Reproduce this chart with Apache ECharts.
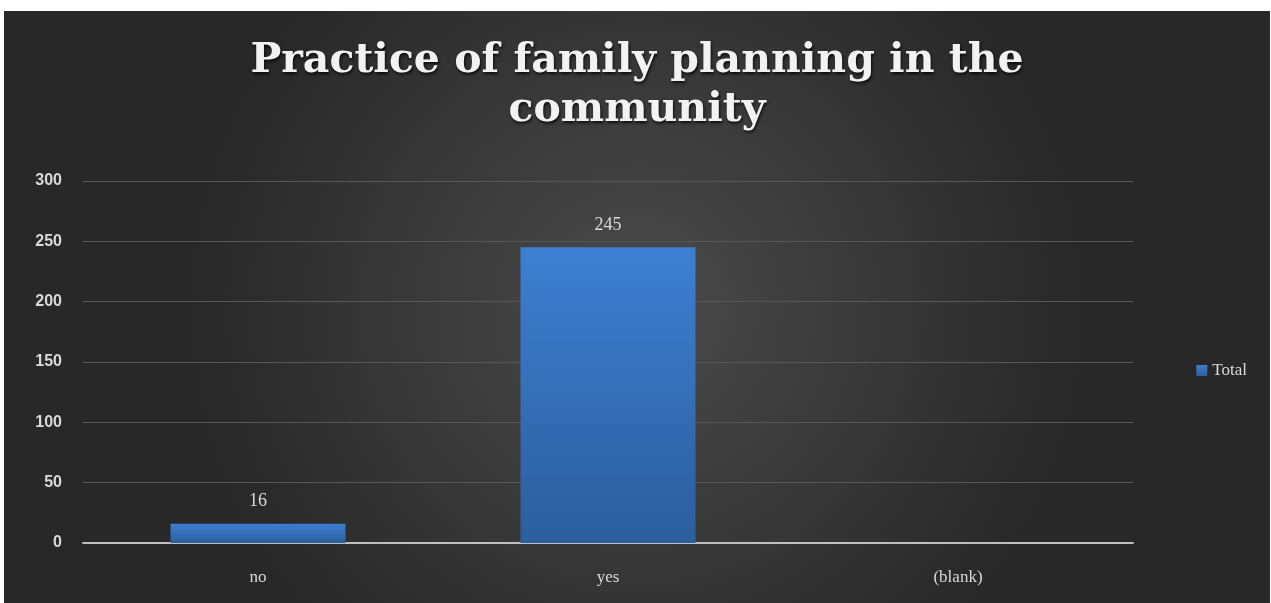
<!DOCTYPE html>
<html>
<head>
<meta charset="utf-8">
<script src="https://cdn.jsdelivr.net/npm/echarts@6/dist/echarts.min.js"></script>
<style>
  html, body { margin: 0; padding: 0; background: #fff; }
  #chart1 { position: absolute; left: 4px; top: 11px; width: 1266px; height: 592px; }
</style>
</head>
<body>
<div id="chart1"></div>
<script>
const categories = ['no', 'yes', '(blank)'];
const totals = [16, 245, null];
const yTicks = [0, 50, 100, 150, 200, 250, 300];

const getOptionChart1 = () => {
  return {
    backgroundColor: {
      type: 'radial', x: 0.5, y: 0.5, r: 0.75,
      colorStops: [
        { offset: 0, color: '#4b4b4b' },
        { offset: 1, color: '#282828' }
      ]
    },
    title: {
      text: 'Practice of family planning in the\ncommunity',
      left: 'center',
      top: 21,
      textStyle: {
        color: '#f2f2f2',
        fontFamily: 'DejaVu Serif',
        fontWeight: 'bold',
        fontSize: 41,
        lineHeight: 49,
        textShadowColor: 'rgba(0,0,0,0.8)',
        textShadowBlur: 3,
        textShadowOffsetX: 1,
        textShadowOffsetY: 2
      }
    },
    legend: {
      orient: 'vertical',
      right: 18,
      top: 346,
      itemWidth: 11,
      itemHeight: 11,
      itemGap: 6,
      icon: 'rect',
      textStyle: { color: '#d9d9d9', fontFamily: 'Liberation Serif', fontSize: 17 }
    },
    grid: { left: 79, right: 137, top: 170, bottom: 60, containLabel: false },
    xAxis: {
      type: 'category',
      data: categories,
      axisLine: { lineStyle: { color: '#bfbfbf', width: 2 } },
      axisTick: { show: false },
      axisLabel: { color: '#d9d9d9', fontFamily: 'Liberation Serif', fontSize: 17, margin: 26 }
    },
    yAxis: {
      type: 'value',
      min: yTicks[0],
      max: yTicks[yTicks.length - 1],
      interval: 50,
      axisLine: { show: false },
      axisTick: { show: false },
      splitLine: { lineStyle: { color: '#575757', width: 1 } },
      axisLabel: { color: '#d9d9d9', fontFamily: 'Liberation Sans', fontWeight: 'bold', fontSize: 16, margin: 21 }
    },
    series: [
      {
        name: 'Total',
        type: 'bar',
        data: totals,
        barWidth: '50%',
        itemStyle: {
          color: {
            type: 'linear', x: 0, y: 0, x2: 0, y2: 1,
            colorStops: [
              { offset: 0, color: '#3d7fd2' },
              { offset: 1, color: '#2c5e9d' }
            ]
          }
        },
        label: {
          show: true,
          position: 'top',
          distance: 13,
          color: '#d9d9d9',
          fontFamily: 'Liberation Serif',
          fontSize: 18
        }
      }
    ]
  };
};

const initCharts = () => {
  const chart1 = echarts.init(document.getElementById('chart1'));
  chart1.setOption(getOptionChart1());
};

window.addEventListener('load', () => {
  initCharts();
});
</script>
</body>
</html>
